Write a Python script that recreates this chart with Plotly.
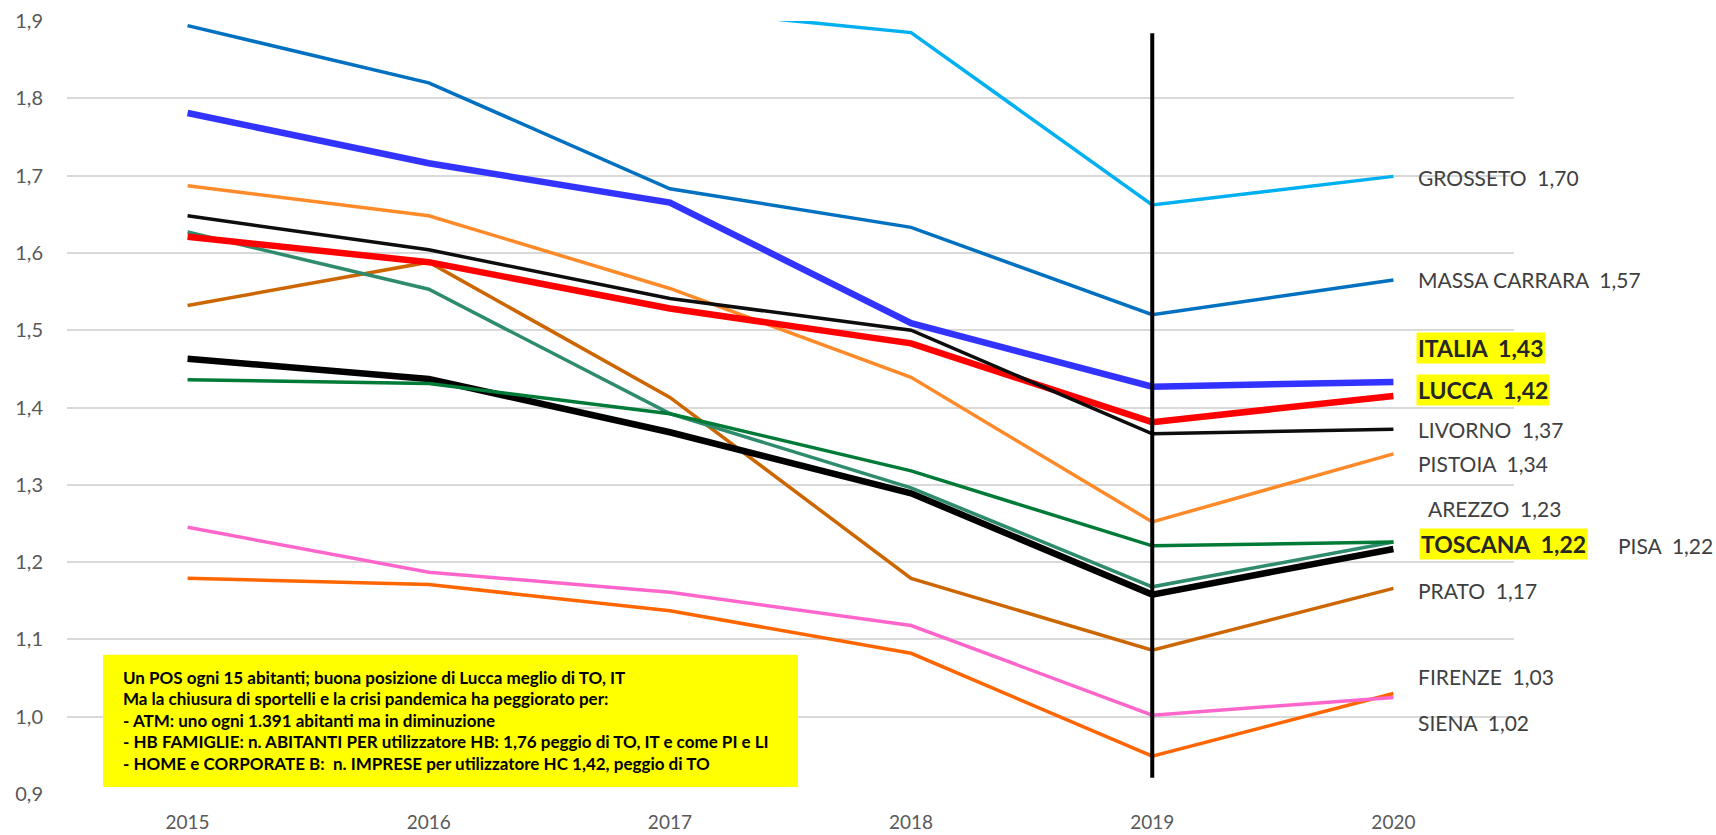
import plotly.graph_objects as go

years = ["2015", "2016", "2017", "2018", "2019", "2020"]

grosseto = [2.06, 1.99, 1.916, 1.885, 1.662, 1.699]
massa_carrara = [1.894, 1.820, 1.683, 1.633, 1.520, 1.565]
italia = [1.781, 1.716, 1.665, 1.509, 1.427, 1.433]
lucca = [1.621, 1.588, 1.528, 1.483, 1.381, 1.415]
livorno = [1.648, 1.604, 1.541, 1.500, 1.366, 1.372]
pistoia = [1.687, 1.648, 1.554, 1.439, 1.252, 1.340]
arezzo = [1.436, 1.431, 1.392, 1.318, 1.221, 1.226]
pisa = [1.627, 1.553, 1.392, 1.296, 1.168, 1.226]
toscana = [1.463, 1.437, 1.368, 1.289, 1.158, 1.217]
prato = [1.532, 1.588, 1.413, 1.179, 1.086, 1.166]
firenze = [1.179, 1.171, 1.137, 1.082, 0.949, 1.030]
siena = [1.245, 1.187, 1.161, 1.118, 1.002, 1.025]

marker_year = "2019"
marker_span = [1.884, 0.921]

label_texts = ["GROSSETO  1,70", "MASSA CARRARA  1,57", "ITALIA  1,43", "LUCCA  1,42",
               "LIVORNO  1,37", "PISTOIA  1,34", "AREZZO  1,23", "TOSCANA  1,22",
               "PISA  1,22", "PRATO  1,17", "FIRENZE  1,03", "SIENA  1,02"]

note_lines = [
    "Un POS ogni 15 abitanti; buona posizione di Lucca meglio di TO, IT",
    "Ma la chiusura di sportelli e la crisi pandemica ha peggiorato per:",
    "- ATM: uno ogni 1.391 abitanti ma in diminuzione",
    "- HB FAMIGLIE: n. ABITANTI PER utilizzatore HB: 1,76 peggio di TO, IT e come PI e LI",
    "- HOME e CORPORATE B:  n. IMPRESE per utilizzatore HC 1,42, peggio di TO",
]

THIN, THICK = 3.5, 6.5
series = [
    ("Firenze", firenze, "#FF6600", THIN),
    ("Siena", siena, "#FF66CC", THIN),
    ("Prato", prato, "#CC6600", THIN),
    ("Toscana", toscana, "#000000", THICK),
    ("Pisa", pisa, "#2E8B6E", THIN),
    ("Arezzo", arezzo, "#007A37", THIN),
    ("Pistoia", pistoia, "#FF8A2A", THIN),
    ("Lucca", lucca, "#FF0000", THICK),
    ("Italia", italia, "#3333FF", THICK),
    ("Livorno", livorno, "#0D0D0D", THIN),
    ("Massa Carrara", massa_carrara, "#0070C0", THIN),
    ("Grosseto", grosseto, "#00B0F0", THIN),
]

fig = go.Figure()
for name, vals, color, w in series:
    fig.add_trace(go.Scatter(x=years, y=vals, mode="lines", name=name,
                             line=dict(color=color, width=w), showlegend=False))

fig.add_trace(go.Scatter(x=[marker_year, marker_year], y=marker_span, mode="lines",
                         line=dict(color="#000000", width=4), showlegend=False))

W, H = 1716, 835
L, R, T, B = 67, 202, 21, 41
pw = W - L - R


def px_to_paper(x):
    return (x - L) / pw


FONT = "Lato"
label_specs = [
    # text index, x pixel, y (data units), bold
    (0, 1416, 1.698, False),
    (1, 1416, 1.565, False),
    (2, 1416, 1.477, True),
    (3, 1416, 1.422, True),
    (4, 1416, 1.371, False),
    (5, 1416, 1.328, False),
    (6, 1426, 1.269, False),
    (7, 1419, 1.224, True),
    (8, 1616, 1.222, False),
    (9, 1416, 1.1635, False),
    (10, 1416, 1.052, False),
    (11, 1416, 0.992, False),
]
annotations = []
for idx, xp, yv, bold in label_specs:
    txt = label_texts[idx]
    if bold:
        annotations.append(dict(x=px_to_paper(xp), y=yv, xref="paper", yref="y",
                                text="<b>" + txt + "</b>", showarrow=False,
                                xanchor="left", yanchor="middle",
                                font=dict(family=FONT, size=23, color="#262626"),
                                bgcolor="#FFFF00", borderpad=1))
    else:
        annotations.append(dict(x=px_to_paper(xp), y=yv, xref="paper", yref="y",
                                text=txt, showarrow=False, xanchor="left", yanchor="middle",
                                font=dict(family=FONT, size=21, color="#404040")))

note_y = [1.051, 1.0232, 0.9953, 0.9675, 0.9397]
for line, yv in zip(note_lines, note_y):
    annotations.append(dict(x=px_to_paper(121), y=yv, xref="paper", yref="y",
                            text="<b>" + line + "</b>", showarrow=False,
                            xanchor="left", yanchor="middle",
                            font=dict(family=FONT, size=17, color="#000000")))

shapes = [dict(type="rect", xref="paper", yref="y",
               x0=px_to_paper(103), x1=px_to_paper(798), y0=0.909, y1=1.080,
               fillcolor="#FFFF00", line=dict(width=0), layer="above")]

fig.update_layout(
    width=W, height=H,
    margin=dict(l=L, r=R, t=T, b=B, pad=0, autoexpand=False),
    paper_bgcolor="white", plot_bgcolor="white",
    separators=",.",
    font=dict(family=FONT, color="#595959"),
    annotations=annotations,
    shapes=shapes,
    hovermode=False,
)
fig.update_xaxes(type="category", range=[-0.5, 5.5], showgrid=False, zeroline=False,
                 showline=False, ticks="outside", ticklen=11, tickcolor="rgba(0,0,0,0)",
                 automargin=False,
                 tickfont=dict(family=FONT, size=19, color="#595959"))
fig.update_yaxes(range=[0.9, 1.9], dtick=0.1, tick0=0.9, tickformat=".1f",
                 showgrid=True, gridcolor="#D9D9D9", gridwidth=1.5, zeroline=False,
                 showline=False, ticks="outside", ticklen=19, tickcolor="rgba(0,0,0,0)",
                 automargin=False,
                 tickfont=dict(family=FONT, size=20, color="#595959"))

fig.write_html("out.html", config={"displayModeBar": False},
               post_script="document.body.style.margin='0';document.body.style.overflow='hidden';")
